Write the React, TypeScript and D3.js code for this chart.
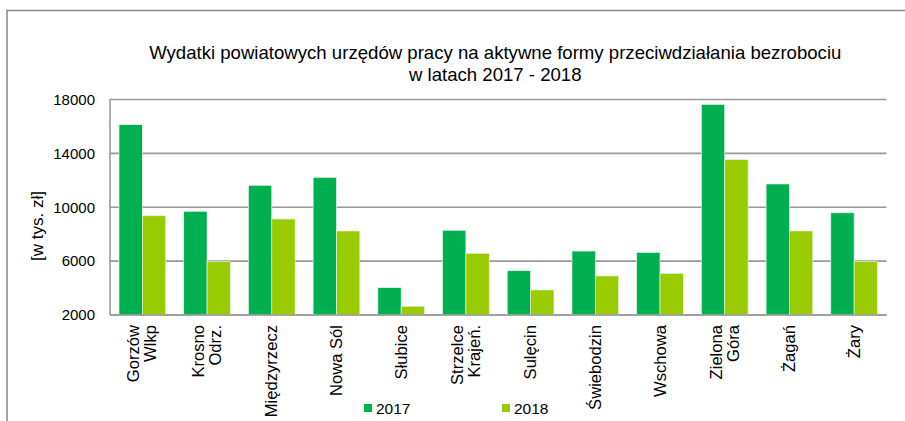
import React from "react";
import * as d3 from "d3";

const categories: string[][] = [
  ["Gorzów", "Wlkp"],
  ["Krosno", "Odrz."],
  ["Międzyrzecz"],
  ["Nowa Sól"],
  ["Słubice"],
  ["Strzelce", "Krajeń."],
  ["Sulęcin"],
  ["Świebodzin"],
  ["Wschowa"],
  ["Zielona", "Góra"],
  ["Żagań"],
  ["Żary"],
];
const values2017 = [16130, 9700, 11630, 12220, 4030, 8290, 5290, 6750, 6650, 17640, 11730, 9590];
const values2018 = [9370, 5960, 9130, 8240, 2650, 6580, 3860, 4900, 5090, 13530, 8240, 5960];
const seriesNames = ["2017", "2018"];
const yTicks = [2000, 6000, 10000, 14000, 18000];
const titleLines = [
  "Wydatki powiatowych urzędów pracy na aktywne formy przeciwdziałania bezrobociu",
  "w latach 2017 - 2018",
];
const yTitle = "[w tys. zł]";

const W = 905;
const H = 421;
const colors = ["#00B050", "#99CC00"];
const font = "Arial, 'Liberation Sans', sans-serif";

export default function App() {
  const left = 110;
  const right = 886.5;
  const top = 99.5;
  const bottom = 315;

  const x = d3
    .scaleBand<number>()
    .domain(d3.range(categories.length))
    .range([left, right])
    .paddingInner(0.278)
    .paddingOuter(0.139);
  const y = d3.scaleLinear().domain([2000, 18000]).range([bottom, top]);
  const bw = x.bandwidth() / 2;
  const series = [values2017, values2018];

  return (
    <svg
      width={W}
      height={H}
      style={{ position: "absolute", left: 0, top: 0, background: "#fff" }}
      fontFamily={font}
    >
      {/* outer frame */}
      <path d={`M7,${H} V10.5 H${W}`} fill="none" stroke="#888" strokeWidth={1.5} />

      {/* title */}
      {titleLines.map((t, i) => (
        <text key={i} x={(left + right) / 2 - 3} y={59 + i * 22} textAnchor="middle" fontSize={18.6} fill="#000">
          {t}
        </text>
      ))}

      {/* gridlines */}
      {yTicks.map((t) => (
        <line key={t} x1={left} x2={right} y1={y(t)} y2={y(t)} stroke="#999" strokeWidth={1.6} />
      ))}
      <line x1={left} x2={left} y1={top} y2={bottom} stroke="#999" strokeWidth={1.6} />

      {/* y tick labels */}
      {yTicks.map((t) => (
        <text key={t} x={95} y={y(t)} dy="0.35em" textAnchor="end" fontSize={15} fill="#000">
          {t}
        </text>
      ))}
      <text
        transform={`translate(37,226) rotate(-90)`}
        textAnchor="middle"
        dominantBaseline="central"
        fontSize={17}
        fill="#000"
      >
        {yTitle}
      </text>

      {/* bars */}
      {series.map((vals, s) =>
        vals.map((v, i) => {
          const x0 = (x(i) as number) + s * bw;
          return (
            <rect
              key={`${s}-${i}`}
              x={x0}
              y={y(v)}
              width={bw}
              height={bottom - y(v)}
              fill={colors[s]}
              stroke="#e6f5e6"
              strokeWidth={0.7}
            />
          );
        })
      )}
      <line x1={left} x2={right} y1={bottom} y2={bottom} stroke="#999" strokeWidth={1.6} />

      {/* x labels */}
      {categories.map((lines, i) => {
        const cx = (x(i) as number) + x.bandwidth() / 2;
        const n = lines.length;
        return (
          <text
            key={i}
            transform={`translate(${cx},325) rotate(-90)`}
            textAnchor="end"
            fontSize={16.6}
            fill="#000"
          >
            {lines.map((l, j) => (
              <tspan key={j} x={0} y={(j - (n - 1) / 2) * 17} dominantBaseline="central">
                {l}
              </tspan>
            ))}
          </text>
        );
      })}

      {/* legend */}
      {seriesNames.map((name, s) => {
        const lx = s === 0 ? 364 : 502;
        return (
          <g key={name}>
            <rect x={lx} y={404} width={8} height={8} fill={colors[s]} />
            <text x={lx + 12} y={413.5} fontSize={15.5} fill="#000">
              {name}
            </text>
          </g>
        );
      })}
    </svg>
  );
}
